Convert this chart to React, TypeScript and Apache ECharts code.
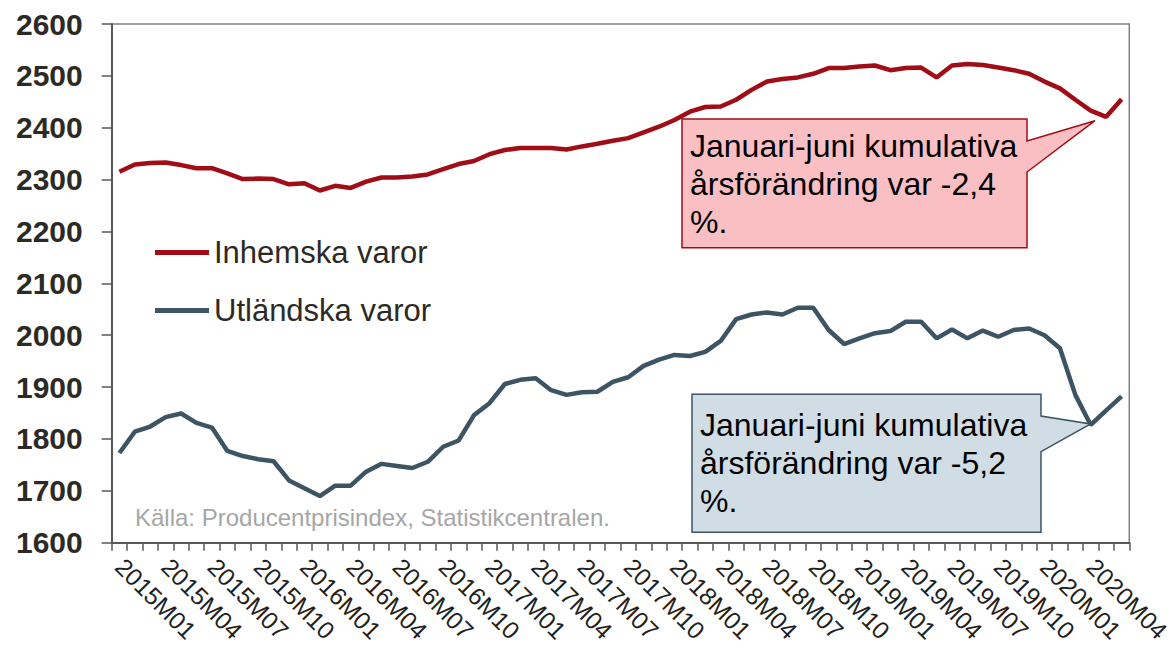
import React, { useEffect, useRef } from "react";
import * as echarts from "echarts";

const years = ["2015", "2016", "2017", "2018", "2019", "2020"];
const months = ["01", "02", "03", "04", "05", "06", "07", "08", "09", "10", "11", "12"];
const categories: string[] = [];
for (const y of years) {
  for (const m of months) {
    if (y === "2020" && Number(m) > 6) break;
    categories.push(`${y}M${m}`);
  }
}

const inhemska = [
  2315, 2329, 2332, 2333, 2328, 2322, 2322, 2312, 2301, 2302, 2301, 2291,
  2293, 2279, 2288, 2284, 2296, 2304, 2304, 2306, 2310, 2320, 2330, 2336,
  2349, 2357, 2361, 2361, 2361, 2358, 2364, 2369, 2375, 2380, 2391, 2402,
  2415, 2431, 2440, 2441, 2454, 2473, 2489, 2494, 2497, 2504, 2515, 2515,
  2518, 2520, 2511, 2515, 2516, 2497, 2520, 2523, 2521, 2516, 2511, 2504,
  2489, 2476, 2454, 2433, 2421, 2455,
];

const utlandska = [
  1773, 1814, 1824, 1842, 1849, 1831, 1822, 1777, 1767, 1761, 1757, 1720,
  1705, 1690, 1710, 1710, 1737, 1752, 1748, 1744, 1756, 1785, 1797, 1846,
  1869, 1906, 1914, 1917, 1894, 1885, 1890, 1891, 1910, 1919, 1941, 1953,
  1962, 1960, 1968, 1989, 2031, 2040, 2044, 2040, 2053, 2053, 2010, 1983,
  1994, 2004, 2008, 2026, 2026, 1994, 2011, 1994, 2009, 1997, 2010, 2013,
  2000, 1975, 1885, 1827, 1855, 1882,
];

const seriesNames = ["Inhemska varor", "Utländska varor"];
const seriesColors = ["#A00D17", "#3D5464"];
const yTicks = { min: 1600, max: 2600, interval: 100 };

const noteRed = "Januari-juni kumulativa\nårsförändring var -2,4\n%.";
const noteBlue = "Januari-juni kumulativa\nårsförändring var -5,2\n%.";
const sourceText = "Källa: Producentprisindex, Statistikcentralen.";

const FONT = "'Liberation Sans', Arial, sans-serif";

export default function App() {
  const ref = useRef<HTMLDivElement>(null);
  useEffect(() => {
    if (!ref.current) return;
    const chart = echarts.init(ref.current, null, { renderer: "svg" });
    chart.setOption({
      animation: false,
      backgroundColor: "#ffffff",
      textStyle: { fontFamily: FONT },
      grid: {
        left: 111.7,
        right: 43.7,
        top: 24,
        bottom: 111.3,
        show: true,
        borderColor: "#7f7f7f",
        borderWidth: 1.5,
        containLabel: false,
        outerBoundsMode: "none",
      },
      legend: {
        orient: "vertical",
        left: 155,
        top: 237,
        padding: 0,
        itemWidth: 54,
        itemHeight: 5,
        itemGap: 27,
        icon: "rect",
        textStyle: { fontSize: 31, color: "#2d2a25", fontFamily: FONT },
        data: seriesNames,
      },
      xAxis: {
        type: "category",
        data: categories,
        boundaryGap: true,
        axisLine: { show: true, lineStyle: { color: "#595959", width: 2 } },
        axisTick: { show: true, interval: 0, length: 8, inside: false, lineStyle: { color: "#595959", width: 1.5 } },
        axisLabel: {
          interval: 2,
          rotate: -45,
          margin: 20,
          fontSize: 24.5,
          lineHeight: 25,
          color: "#231f20",
          fontFamily: FONT,
        },
        splitLine: { show: false },
      },
      yAxis: {
        type: "value",
        min: yTicks.min,
        max: yTicks.max,
        interval: yTicks.interval,
        axisLine: { show: true, lineStyle: { color: "#595959", width: 2 } },
        axisTick: { show: true, length: 10, lineStyle: { color: "#595959", width: 1.5 } },
        axisLabel: {
          margin: 29,
          fontSize: 30,
          fontWeight: "bold",
          color: "#2d2a25",
          fontFamily: FONT,
          formatter: (v: number) => String(v),
        },
        splitLine: { show: false },
      },
      series: [
        {
          name: seriesNames[0],
          type: "line",
          data: inhemska,
          symbol: "none",
          color: seriesColors[0],
          lineStyle: { width: 4.5, color: seriesColors[0] },
        },
        {
          name: seriesNames[1],
          type: "line",
          data: utlandska,
          symbol: "none",
          color: seriesColors[1],
          lineStyle: { width: 4.5, color: seriesColors[1] },
        },
      ],
      graphic: [
        {
          type: "text",
          left: 135,
          top: 505,
          z: 50,
          style: { text: sourceText, fontSize: 24, fill: "#a6a6a6", fontFamily: FONT },
        },
        {
          type: "polygon",
          z: 60,
          shape: {
            points: [
              [682, 119],
              [1027, 119],
              [1027, 141],
              [1095, 120.7],
              [1027, 172],
              [1027, 247.7],
              [682, 247.7],
            ],
          },
          style: { fill: "#F9BFC2", stroke: "#A00D17", lineWidth: 1.5 },
        },
        {
          type: "text",
          z: 61,
          x: 690,
          y: 127,
          style: {
            text: noteRed,
            fontSize: 32,
            lineHeight: 38,
            fill: "#000000",
            fontFamily: FONT,
            verticalAlign: "top",
          },
        },
        {
          type: "polygon",
          z: 60,
          shape: {
            points: [
              [692, 394.3],
              [1041, 394.3],
              [1041, 416],
              [1090.6, 424],
              [1041, 451.7],
              [1041, 532.3],
              [692, 532.3],
            ],
          },
          style: { fill: "#D1DDE4", stroke: "#3D5464", lineWidth: 1.5 },
        },
        {
          type: "text",
          z: 61,
          x: 700,
          y: 406,
          style: {
            text: noteBlue,
            fontSize: 32,
            lineHeight: 38,
            fill: "#000000",
            fontFamily: FONT,
            verticalAlign: "top",
          },
        },
      ],
    });
    return () => chart.dispose();
  }, []);
  return (
    <div
      ref={ref}
      style={{ position: "fixed", left: 0, top: 0, width: 1173, height: 654, background: "#fff" }}
    />
  );
}
